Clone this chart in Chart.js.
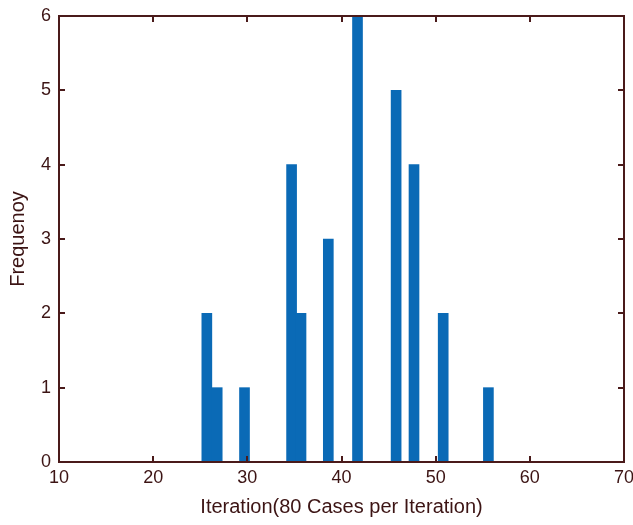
<!DOCTYPE html>
<html>
<head>
<meta charset="utf-8">
<script src="https://cdn.jsdelivr.net/npm/chart.js@4/dist/chart.umd.min.js"></script>
<style>
  html, body { margin: 0; padding: 0; background: #ffffff; }
  #grafico { display: block; }
</style>
</head>
<body>
<canvas id="grafico" width="633" height="525"></canvas>
<script>
// datos
const iteraciones = [25.7, 26.8, 29.7, 34.7, 35.7, 38.6, 41.7, 45.8, 47.7, 50.8, 55.6];
const frecuencia = [2, 1, 1, 4, 2, 3, 6, 5, 4, 2, 1];
const ticksX = [10, 20, 30, 40, 50, 60, 70];
const ticksY = [0, 1, 2, 3, 4, 5, 6];

const colorEje = '#4a1a1a';
const colorTexto = '#3c1414';
const fuente = "'Liberation Sans', Arial, sans-serif";

// caja y marcas hacia adentro, estilo matlab
const cajaEjes = {
    id: 'cajaEjes',
    afterDatasetsDraw(chart) {
        const ctx = chart.ctx;
        const a = chart.chartArea;
        const sx = chart.scales.x;
        const sy = chart.scales.y;
        ctx.save();
        ctx.strokeStyle = colorEje;
        ctx.lineWidth = 2;
        ctx.strokeRect(a.left, a.top, a.right - a.left, a.bottom - a.top);
        ctx.beginPath();
        ticksX.forEach(v => {
            const px = Math.round(sx.getPixelForValue(v));
            ctx.moveTo(px, a.bottom); ctx.lineTo(px, a.bottom - 6);
            ctx.moveTo(px, a.top); ctx.lineTo(px, a.top + 6);
        });
        ticksY.forEach(v => {
            const py = Math.round(sy.getPixelForValue(v));
            ctx.moveTo(a.left, py); ctx.lineTo(a.left + 6, py);
            ctx.moveTo(a.right, py); ctx.lineTo(a.right - 6, py);
        });
        ctx.stroke();
        ctx.restore();
    }
};

const ctx = document.getElementById('grafico').getContext('2d');
const grafico = new Chart(ctx, {
    type: 'bar',
    data: {
        datasets: [{
            label: 'Frequency',
            data: iteraciones.map((x, i) => ({ x: x, y: frecuencia[i] })),
            backgroundColor: '#0a6ab6',
            borderWidth: 0,
            barThickness: 10
        }]
    },
    options: {
        responsive: false,
        animation: false,
        layout: { padding: { top: 16, right: 9, left: 0, bottom: 0 } },
        plugins: {
            legend: { display: false },
            tooltip: { enabled: false }
        },
        scales: {
            x: {
                type: 'linear',
                min: 10,
                max: 70,
                offset: false,
                grid: { display: false, drawTicks: false },
                border: { display: false },
                ticks: {
                    stepSize: 10,
                    autoSkip: false,
                    maxRotation: 0,
                    padding: 5,
                    color: colorTexto,
                    font: { family: fuente, size: 18 }
                },
                title: {
                    display: true,
                    text: 'Iteration(80 Cases per Iteration)',
                    color: colorTexto,
                    font: { family: fuente, size: 20 },
                    padding: { top: 0, bottom: 6 }
                },
                afterFit: s => { s.height = 63; s.paddingLeft = 0; s.paddingRight = 0; }
            },
            y: {
                min: 0,
                max: 6,
                grid: { display: false, drawTicks: false },
                border: { display: false },
                ticks: {
                    stepSize: 1,
                    padding: 8,
                    color: colorTexto,
                    font: { family: fuente, size: 18 }
                },
                title: {
                    display: true,
                    text: 'Frequenoy',
                    color: colorTexto,
                    font: { family: fuente, size: 20 },
                    padding: { top: 6, bottom: 0 }
                },
                afterFit: s => { s.width = 59; s.paddingTop = 0; s.paddingBottom = 0; }
            }
        }
    },
    plugins: [cajaEjes]
});
</script>
</body>
</html>
